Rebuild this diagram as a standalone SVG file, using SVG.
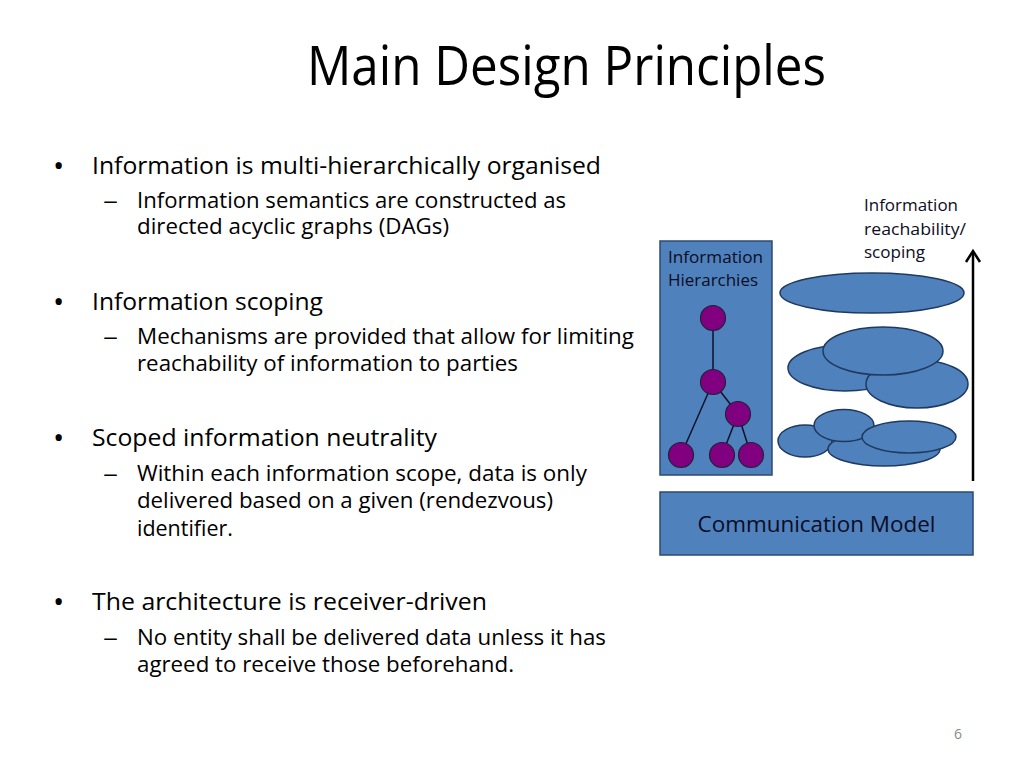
<svg xmlns="http://www.w3.org/2000/svg" width="1024" height="768" viewBox="0 0 1024 768">
<defs>
<style>
text { font-family: "Open Sans", "Noto Sans", "Liberation Sans", sans-serif; fill: #000; }
.title { font-size: 55px; }
.l1 { font-size: 24px; }
.bul { font-size: 30px; }
.l2 { font-size: 21px; }
.lbl { font-size: 17px; fill: #0c0c24; }
.cm { font-size: 22px; fill: #0c0c24; }
.pg { font-size: 14px; fill: #8a8a8a; }
.box { fill: #4f81bd; stroke: #2c4a72; stroke-width: 1.5; }
.ell { fill: #4f81bd; stroke: #1f3a60; stroke-width: 1.5; }
.node { fill: #800080; stroke: #20203a; stroke-width: 1.2; }
.edge { stroke: #10102a; stroke-width: 1.5; fill: none; }
</style>
</defs>
<rect width="1024" height="768" fill="#ffffff"/>

<text class="title" x="307" y="85" textLength="519" lengthAdjust="spacingAndGlyphs">Main Design Principles</text>

<g id="bullets">
<text class="bul" x="53" y="176">•</text>
<text class="l1" x="92" y="174" textLength="509" lengthAdjust="spacingAndGlyphs">Information is multi-hierarchically organised</text>
<text class="l2" x="103" y="208" textLength="15" lengthAdjust="spacingAndGlyphs">–</text>
<text class="l2" x="137" y="208" textLength="429" lengthAdjust="spacingAndGlyphs">Information semantics are constructed as</text>
<text class="l2" x="137" y="234" textLength="312" lengthAdjust="spacingAndGlyphs">directed acyclic graphs (DAGs)</text>

<text class="bul" x="53" y="312">•</text>
<text class="l1" x="92" y="310" textLength="231" lengthAdjust="spacingAndGlyphs">Information scoping</text>
<text class="l2" x="103" y="344" textLength="15" lengthAdjust="spacingAndGlyphs">–</text>
<text class="l2" x="137" y="344" textLength="497" lengthAdjust="spacingAndGlyphs">Mechanisms are provided that allow for limiting</text>
<text class="l2" x="137" y="371" textLength="381" lengthAdjust="spacingAndGlyphs">reachability of information to parties</text>

<text class="bul" x="53" y="448">•</text>
<text class="l1" x="92" y="446" textLength="345" lengthAdjust="spacingAndGlyphs">Scoped information neutrality</text>
<text class="l2" x="103" y="481" textLength="15" lengthAdjust="spacingAndGlyphs">–</text>
<text class="l2" x="137" y="481" textLength="450" lengthAdjust="spacingAndGlyphs">Within each information scope, data is only</text>
<text class="l2" x="137" y="508" textLength="416" lengthAdjust="spacingAndGlyphs">delivered based on a given (rendezvous)</text>
<text class="l2" x="137" y="536" textLength="96" lengthAdjust="spacingAndGlyphs">identifier.</text>

<text class="bul" x="53" y="612">•</text>
<text class="l1" x="92" y="610" textLength="395" lengthAdjust="spacingAndGlyphs">The architecture is receiver-driven</text>
<text class="l2" x="103" y="645" textLength="15" lengthAdjust="spacingAndGlyphs">–</text>
<text class="l2" x="137" y="645" textLength="469" lengthAdjust="spacingAndGlyphs">No entity shall be delivered data unless it has</text>
<text class="l2" x="137" y="672" textLength="377" lengthAdjust="spacingAndGlyphs">agreed to receive those beforehand.</text>
</g>

<g id="hierarchies">
<rect class="box" x="660" y="241" width="112" height="234"/>
<text class="lbl" x="668" y="263" textLength="95" lengthAdjust="spacingAndGlyphs">Information</text>
<text class="lbl" x="668" y="286" textLength="90" lengthAdjust="spacingAndGlyphs">Hierarchies</text>
</g>

<g id="tree-edges">
<line class="edge" x1="713" y1="318" x2="713" y2="382"/>
<line class="edge" x1="713" y1="382" x2="681" y2="455"/>
<line class="edge" x1="713" y1="382" x2="738" y2="414"/>
<line class="edge" x1="738" y1="414" x2="722" y2="455"/>
<line class="edge" x1="738" y1="414" x2="751" y2="455"/>
</g>
<g id="tree-nodes">
<circle id="n1" class="node" cx="713" cy="318" r="12.5"/>
<circle id="n2" class="node" cx="713" cy="382" r="12.5"/>
<circle id="n3" class="node" cx="738" cy="414" r="12.5"/>
<circle id="n4" class="node" cx="681" cy="455" r="12.5"/>
<circle id="n5" class="node" cx="722" cy="455" r="12.5"/>
<circle id="n6" class="node" cx="751" cy="455" r="12.5"/>
</g>

<g id="scope-top">
<ellipse class="ell" cx="872" cy="293" rx="92" ry="20"/>
</g>
<g id="scope-middle">
<ellipse class="ell" cx="845" cy="368" rx="57" ry="23"/>
<ellipse class="ell" cx="917" cy="384" rx="51" ry="24"/>
<ellipse class="ell" cx="883" cy="351" rx="60" ry="24"/>
</g>
<g id="scope-bottom">
<ellipse class="ell" cx="805" cy="441" rx="27" ry="16"/>
<ellipse class="ell" cx="884" cy="449" rx="56" ry="17"/>
<ellipse class="ell" cx="844" cy="425.5" rx="30" ry="16"/>
<ellipse class="ell" cx="909" cy="437" rx="47" ry="16"/>
</g>

<g id="reachability">
<text class="lbl" x="864" y="211" textLength="94" lengthAdjust="spacingAndGlyphs">Information</text>
<text class="lbl" x="864" y="235" textLength="102" lengthAdjust="spacingAndGlyphs">reachability/</text>
<text class="lbl" x="864" y="258" textLength="61" lengthAdjust="spacingAndGlyphs">scoping</text>
</g>

<g id="connectors">
<line x1="973" y1="481" x2="973" y2="252" stroke="#000" stroke-width="2.5"/>
<polyline points="966,262 973,251 980,262" fill="none" stroke="#000" stroke-width="2.5" stroke-linejoin="miter"/>
</g>

<g id="communication-model">
<rect class="box" x="660" y="492" width="313" height="63"/>
<text class="cm" x="816.5" y="532" text-anchor="middle" textLength="238" lengthAdjust="spacingAndGlyphs">Communication Model</text>
</g>

<text class="pg" x="958" y="739" text-anchor="middle">6</text>
</svg>
